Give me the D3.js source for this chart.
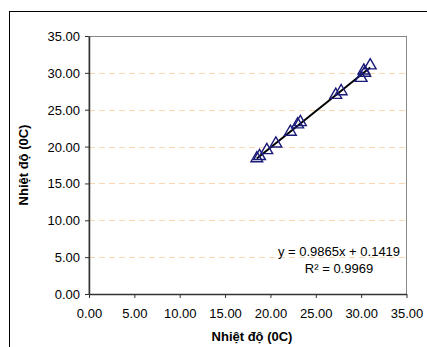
<!DOCTYPE html>
<html>
<head>
<meta charset="utf-8">
<script src="https://cdn.jsdelivr.net/npm/d3@7"></script>
<style>
  body { margin:0; background:#fff; }
  text { font-family: "Liberation Sans", Arial, sans-serif; }
</style>
</head>
<body>
<div class="canvas"></div>
<script>
// data
const xValues = [18.5, 18.8, 19.6, 20.6, 22.2, 23.0, 23.3, 27.2, 27.8, 30.0, 30.3, 30.4, 31.0]
const yValues = [18.4, 18.7, 19.5, 20.4, 22.0, 23.0, 23.3, 27.0, 27.5, 29.3, 30.3, 30.0, 31.0]
const tickValues = [0, 5, 10, 15, 20, 25, 30, 35]
const slope = 0.9865
const intercept = 0.1419
const equationLabels = ['y = 0.9865x + 0.1419', 'R² = 0.9969']
const axisTitle = 'Nhiệt độ (0C)'

const margin = { top:36, right:20, bottom:53, left:89 }
const width = 427, height = 347
const graphWidth = 406.5 - margin.left
const graphHeight = 294 - margin.top

const svg = d3.select('.canvas').append('svg').attr('width',width).attr('height',height)

// outer chart frame (only top and left edges visible)
svg.append('rect').attr('x',9.5).attr('y',11.5).attr('width',width+20).attr('height',height+20)
  .attr('fill','none').attr('stroke','#000').attr('stroke-width',1)

const graph = svg.append('g').attr('transform',`translate(${margin.left},${margin.top})`)

const x = d3.scaleLinear().domain([0,35]).range([0,graphWidth])
const y = d3.scaleLinear().domain([0,35]).range([graphHeight,0])

// gridlines
graph.append('g').selectAll('line').data(tickValues.filter(d => d > 0 && d < 35)).enter().append('line')
  .attr('x1',0).attr('x2',graphWidth)
  .attr('y1',d => Math.round(y(d)) + 0.5).attr('y2',d => Math.round(y(d)) + 0.5)
  .attr('stroke','#fbd6b2').attr('stroke-width',1).attr('stroke-dasharray','6,4')

// plot area border
graph.append('rect').attr('x',0).attr('y',0.5).attr('width',graphWidth).attr('height',graphHeight)
  .attr('fill','none').attr('stroke','#888').attr('stroke-width',1)

// axes
const xAxis = d3.axisBottom(x).tickValues(tickValues).tickSize(4).tickSizeOuter(0).tickFormat(d3.format('.2f'))
const yAxis = d3.axisLeft(y).tickValues(tickValues).tickSize(4).tickSizeOuter(0).tickFormat(d3.format('.2f'))

const xAxisGroup = graph.append('g').attr('transform',`translate(0,${graphHeight})`).call(xAxis)
const yAxisGroup = graph.append('g').call(yAxis)

;[xAxisGroup, yAxisGroup].forEach(g => {
  g.select('.domain').attr('stroke','#333').attr('stroke-width',1.5)
  g.selectAll('.tick line').attr('stroke','#333')
  g.selectAll('text').attr('font-size',13).attr('fill','#000').style('font-family','"Liberation Sans", Arial, sans-serif')
})
xAxisGroup.selectAll('text').attr('y',24).attr('dy',0)
yAxisGroup.selectAll('text').attr('x',-9).attr('dy','0.35em')

// trendline
const xmin = d3.min(xValues), xmax = d3.max(xValues)
graph.append('line')
  .attr('x1',x(xmin)).attr('y1',y(slope*xmin + intercept))
  .attr('x2',x(xmax)).attr('y2',y(slope*xmax + intercept))
  .attr('stroke','#000').attr('stroke-width',2)

// points (open triangles)
const tri = d3.symbol().type(d3.symbolTriangle).size(60)
graph.selectAll('path.pt').data(xValues).enter().append('path').attr('class','pt')
  .attr('d',tri)
  .attr('transform',(d,i) => `translate(${x(d)},${y(yValues[i])})`)
  .attr('fill','none').attr('stroke','#1a1a78').attr('stroke-width',1.4)

// equation labels
graph.selectAll('text.eq').data(equationLabels).enter().append('text').attr('class','eq')
  .attr('x',339 - margin.left).attr('y',(d,i) => 256 - margin.top + i*17)
  .attr('text-anchor','middle').attr('font-size',13).attr('fill','#000')
  .text(d => d)

// axis titles
svg.append('text').attr('x',252).attr('y',341)
  .attr('text-anchor','middle').attr('font-size',13).attr('font-weight','bold').text(axisTitle)

svg.append('text').attr('transform',`translate(28,${margin.top + graphHeight/2}) rotate(-90)`)
  .attr('text-anchor','middle').attr('font-size',13).attr('font-weight','bold').text(axisTitle)
</script>
</body>
</html>
